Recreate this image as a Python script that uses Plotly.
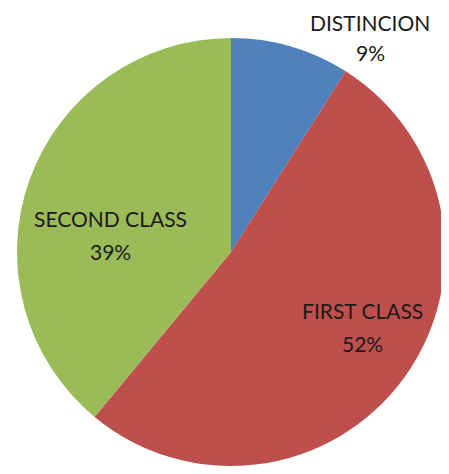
import plotly.graph_objects as go

labels = ["DISTINCION", "FIRST CLASS", "SECOND CLASS"]
values = [9, 52, 39]
colors = ["#4F81BD", "#BE4F4C", "#9BBB59"]

# The page body has an 8px margin, so the figure is offset by 8px.
OFF = 8
W, H = 449 - OFF, 474 - OFF

# label annotation positions in reference pixels: (x, y_label, y_pct)
label_px = {
    "DISTINCION": (370, 22, 52),
    "FIRST CLASS": (362, 310, 343),
    "SECOND CLASS": (110, 218, 251),
}

# pie center / radius in reference pixels
cx, cy, r = 231 - OFF, 252 - OFF, 214

total = sum(values)
fig = go.Figure(
    go.Pie(
        labels=labels,
        values=values,
        marker=dict(colors=colors, line=dict(width=0)),
        sort=False,
        direction="clockwise",
        rotation=0,
        textinfo="none",
        hoverinfo="label+percent",
        showlegend=False,
        domain=dict(x=[(cx - r) / W, (cx + r) / W],
                    y=[(H - cy - r) / H, (H - cy + r) / H]),
    )
)

font = dict(family="Lato", size=21, color="#1a1a1a")
for lab, val in zip(labels, values):
    px, pyl, pyp = label_px[lab]
    x = (px - OFF) / W
    fig.add_annotation(x=x, y=1 - (pyl - OFF) / H, xref="paper", yref="paper", text=lab,
                       showarrow=False, font=font, xanchor="center", yanchor="middle",
                       borderpad=0)
    fig.add_annotation(x=x, y=1 - (pyp - OFF) / H, xref="paper", yref="paper",
                       text=f"{round(100 * val / total)}%",
                       showarrow=False, font=font, xanchor="center", yanchor="middle",
                       borderpad=0)

fig.update_layout(
    width=W, height=H,
    margin=dict(l=0, r=0, t=0, b=0),
    paper_bgcolor="white", plot_bgcolor="white",
)
fig.write_html("out.html")
